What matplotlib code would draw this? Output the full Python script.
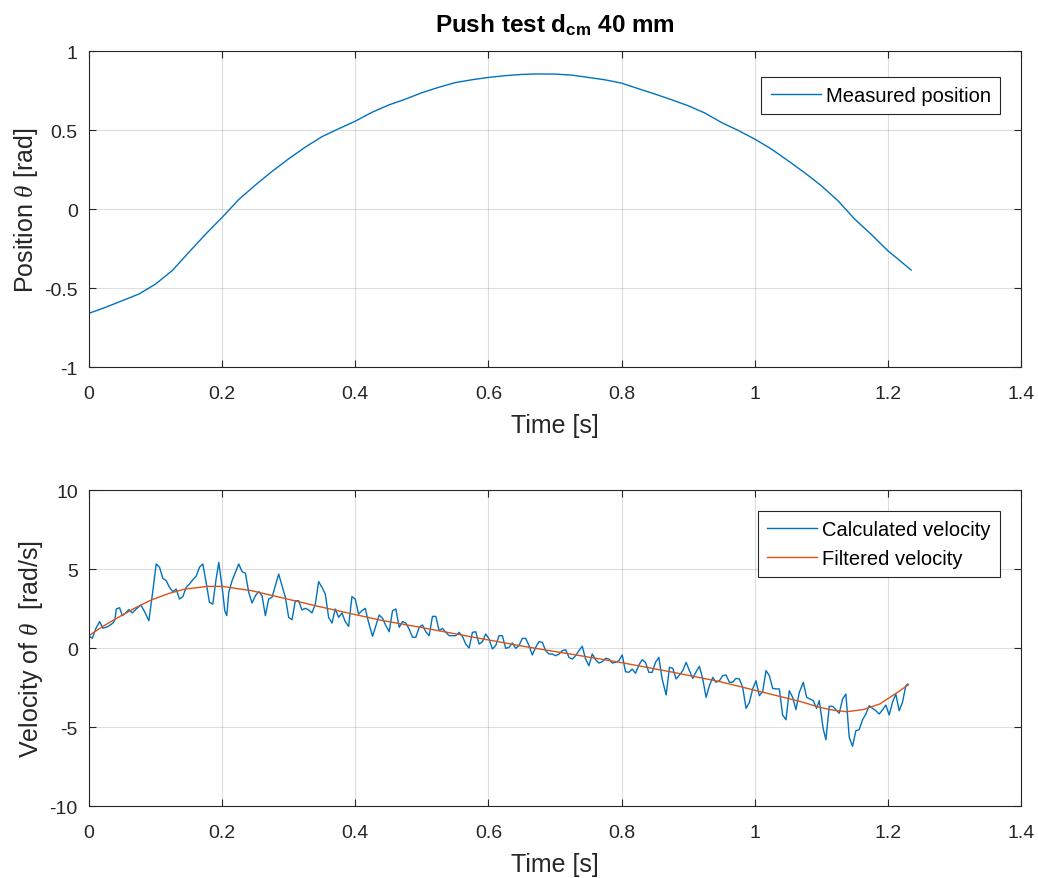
"""Push test: measured position and velocity of theta against time."""

import matplotlib
matplotlib.use("Agg")
import matplotlib.pyplot as plt


BLUE = "#0072BD"
ORANGE = "#D95319"
AXIS_GRAY = "#262626"

# Measured position [rad].
pos_time = [0.0, 0.025, 0.05, 0.075, 0.1, 0.125, 0.15, 0.175, 0.2, 0.225,
            0.25, 0.275, 0.3, 0.325, 0.35, 0.375, 0.4, 0.425, 0.45, 0.475,
            0.5, 0.525, 0.55, 0.575, 0.6, 0.625, 0.65, 0.675, 0.7, 0.725,
            0.75, 0.775, 0.8, 0.825, 0.85, 0.875, 0.9, 0.925, 0.95, 0.975,
            1.0, 1.025, 1.05, 1.075, 1.1, 1.125, 1.15, 1.175, 1.2, 1.215,
            1.235]
pos_value = [-0.66, -0.622, -0.58, -0.538, -0.475, -0.39, -0.274, -0.16,
             -0.053, 0.06, 0.152, 0.238, 0.318, 0.392, 0.458, 0.508, 0.556,
             0.612, 0.658, 0.695, 0.736, 0.77, 0.80, 0.818, 0.833, 0.844,
             0.852, 0.855, 0.854, 0.848, 0.833, 0.818, 0.797, 0.762, 0.728,
             0.692, 0.654, 0.608, 0.548, 0.498, 0.443, 0.38, 0.306, 0.23,
             0.148, 0.053, -0.063, -0.16, -0.264, -0.316, -0.386]

# Calculated velocity [rad/s] (10 per row).
vel_time = [
    0.001, 0.005, 0.010, 0.016, 0.021, 0.029, 0.036, 0.039, 0.041, 0.046,
    0.050, 0.055, 0.060, 0.065, 0.071, 0.078, 0.084, 0.090, 0.095, 0.101,
    0.106, 0.111, 0.116, 0.121, 0.126, 0.131, 0.136, 0.141, 0.146, 0.151,
    0.156, 0.161, 0.166, 0.171, 0.176, 0.181, 0.186, 0.191, 0.195, 0.201,
    0.204, 0.207, 0.210, 0.215, 0.220, 0.225, 0.230, 0.235, 0.240, 0.245,
    0.250, 0.255, 0.260, 0.265, 0.270, 0.275, 0.280, 0.285, 0.290, 0.295,
    0.300, 0.305, 0.310, 0.315, 0.320, 0.325, 0.330, 0.335, 0.340, 0.345,
    0.350, 0.355, 0.360, 0.365, 0.370, 0.375, 0.380, 0.385, 0.390, 0.395,
    0.400, 0.405, 0.410, 0.415, 0.420, 0.426, 0.431, 0.436, 0.441, 0.446,
    0.451, 0.456, 0.461, 0.466, 0.471, 0.476, 0.481, 0.486, 0.491, 0.496,
    0.501, 0.506, 0.511, 0.516, 0.521, 0.526, 0.531, 0.536, 0.541, 0.546,
    0.551, 0.556, 0.561, 0.566, 0.571, 0.576, 0.581, 0.586, 0.591, 0.596,
    0.601, 0.606, 0.611, 0.616, 0.621, 0.626, 0.631, 0.636, 0.641, 0.646,
    0.651, 0.656, 0.661, 0.666, 0.671, 0.676, 0.681, 0.686, 0.691, 0.696,
    0.701, 0.706, 0.711, 0.716, 0.721, 0.726, 0.731, 0.736, 0.741, 0.746,
    0.751, 0.756, 0.761, 0.766, 0.771, 0.776, 0.781, 0.786, 0.791, 0.796,
    0.801, 0.806, 0.811, 0.816, 0.821, 0.826, 0.831, 0.836, 0.841, 0.846,
    0.851, 0.856, 0.861, 0.867, 0.872, 0.877, 0.882, 0.887, 0.892, 0.897,
    0.902, 0.907, 0.912, 0.917, 0.922, 0.927, 0.932, 0.937, 0.942, 0.947,
    0.952, 0.957, 0.962, 0.967, 0.972, 0.977, 0.982, 0.987, 0.992, 0.997,
    1.002, 1.007, 1.012, 1.017, 1.022, 1.027, 1.032, 1.037, 1.042, 1.047,
    1.052, 1.057, 1.062, 1.067, 1.073, 1.078, 1.083, 1.088, 1.093, 1.097,
    1.103, 1.107, 1.112, 1.117, 1.122, 1.127, 1.132, 1.137, 1.142, 1.147,
    1.152, 1.157, 1.162, 1.167, 1.172, 1.177, 1.182, 1.187, 1.192, 1.197,
    1.202, 1.207, 1.212, 1.217, 1.222, 1.227, 1.230]
vel_value = [
    0.74, 0.61, 1.20, 1.67, 1.25, 1.37, 1.58, 1.79, 2.47, 2.55,
    2.05, 2.22, 2.43, 2.22, 2.47, 2.72, 2.26, 1.73, 3.31, 5.32,
    5.11, 4.41, 4.26, 3.84, 3.56, 3.73, 3.10, 3.25, 3.84, 4.05,
    4.32, 4.54, 5.11, 5.32, 4.16, 2.89, 2.78, 4.37, 5.42, 3.52,
    2.36, 2.05, 3.52, 4.26, 4.79, 5.32, 4.83, 4.73, 3.52, 2.85,
    3.31, 3.57, 3.31, 2.05, 3.10, 3.21, 3.94, 4.68, 3.94, 3.21,
    1.94, 1.79, 2.99, 2.99, 2.41, 2.51, 2.41, 2.22, 2.78, 4.20,
    3.84, 3.42, 1.94, 1.58, 2.47, 1.94, 2.22, 1.67, 1.37, 3.25,
    3.10, 2.15, 2.36, 2.51, 1.62, 0.74, 1.41, 2.09, 1.88, 1.41,
    1.03, 2.36, 2.47, 1.31, 1.67, 1.58, 1.20, 0.68, 0.68, 1.31,
    1.46, 1.03, 0.78, 2.00, 2.00, 1.10, 1.24, 0.99, 0.78, 0.78,
    0.78, 0.99, 0.74, 0.25, 0.00, 0.99, 1.03, 0.25, 0.40, 0.89,
    0.57, -0.06, 0.15, 0.78, 0.78, -0.02, 0.04, 0.32, -0.02, 0.15,
    0.61, 0.61, 0.15, -0.44, 0.04, 0.40, 0.36, -0.17, -0.38, -0.38,
    -0.49, -0.38, -0.17, -0.11, -0.59, -0.70, -0.49, -0.17, 0.11, -0.70,
    -1.12, -0.38, -0.74, -0.95, -0.87, -0.65, -0.70, -0.95, -0.91, -0.80,
    -0.44, -1.50, -1.54, -1.33, -1.60, -1.08, -0.74, -0.91, -1.54, -1.54,
    -0.91, -0.59, -1.96, -2.97, -1.22, -1.29, -1.96, -1.71, -1.43, -0.91,
    -1.43, -1.92, -1.50, -1.16, -1.96, -3.12, -2.38, -1.86, -2.17, -2.07,
    -1.75, -1.71, -2.17, -2.17, -1.92, -1.96, -2.49, -3.82, -3.44, -2.59,
    -2.07, -3.02, -2.76, -1.43, -1.75, -2.55, -2.59, -2.59, -4.24, -4.54,
    -2.70, -3.12, -3.90, -2.81, -2.17, -3.12, -3.23, -3.33, -3.82, -3.33,
    -5.13, -5.80, -3.69, -3.69, -3.90, -4.13, -3.23, -2.91, -5.65, -6.22,
    -5.23, -5.17, -4.54, -4.18, -3.65, -3.82, -3.97, -4.18, -3.92, -3.61,
    -4.24, -3.44, -2.91, -3.97, -3.44, -2.39, -2.28]

# Filtered velocity [rad/s].
filt_time = [0.0, 0.02, 0.044, 0.07, 0.094, 0.12, 0.144, 0.179, 0.2, 0.244,
             0.294, 0.344, 0.362, 0.437, 0.512, 0.587, 0.662, 0.723, 0.798,
             0.873, 0.948, 1.023, 1.068, 1.098, 1.12, 1.138, 1.163, 1.188,
             1.213, 1.231]
filt_value = [0.78, 1.35, 1.94, 2.55, 3.05, 3.45, 3.73, 3.90, 3.90, 3.63,
              3.14, 2.64, 2.47, 1.77, 1.20, 0.61, 0.04, -0.38, -0.91, -1.50,
              -2.13, -2.91, -3.38, -3.76, -3.95, -4.03, -3.90, -3.54, -2.85,
              -2.32]

X_TICKS = [0, 0.2, 0.4, 0.6, 0.8, 1.0, 1.2, 1.4]
X_TICK_LABELS = ["0", "0.2", "0.4", "0.6", "0.8", "1", "1.2", "1.4"]


def style_axes(axes):
    """MATLAB-like box, grid and ticks."""
    for spine in axes.spines.values():
        spine.set_color(AXIS_GRAY)
        spine.set_linewidth(0.8)
    axes.tick_params(direction="in", length=5, width=0.8, colors=AXIS_GRAY,
                     labelsize=14, top=True, right=True)
    axes.tick_params(axis="x", pad=13)
    axes.tick_params(axis="y", pad=8)
    axes.grid(True, color=AXIS_GRAY, alpha=0.15, linewidth=0.8)
    axes.set_axisbelow(True)
    axes.set_xlim(0, 1.4)
    axes.set_xticks(X_TICKS)
    axes.set_xticklabels(X_TICK_LABELS)
    axes.set_xlabel("Time [s]", fontsize=18, color=AXIS_GRAY, labelpad=8)


def add_legend(axes, anchor, spacing):
    """Square-cornered legend box as MATLAB draws it."""
    legend = axes.legend(loc="upper right", bbox_to_anchor=anchor,
                         borderaxespad=0, fontsize=14.5, frameon=True,
                         fancybox=False, edgecolor=AXIS_GRAY, framealpha=1,
                         handlelength=2.5, handletextpad=0.25,
                         borderpad=0.45, labelspacing=spacing)
    legend.get_frame().set_linewidth(0.8)


def main() -> None:
    plt.rcParams["font.family"] = ["Liberation Sans", "DejaVu Sans"]
    plt.rcParams["mathtext.fontset"] = "custom"
    plt.rcParams["mathtext.rm"] = "Liberation Sans"
    plt.rcParams["mathtext.it"] = "Liberation Serif:italic"
    plt.rcParams["mathtext.bf"] = "Liberation Sans:bold"
    plt.rcParams["axes.unicode_minus"] = False

    fig = plt.figure(figsize=(10.38, 8.79), dpi=100)
    ax_pos = fig.add_axes([0.0857, 0.5813, 0.8979, 0.3595])
    ax_vel = fig.add_axes([0.0857, 0.0819, 0.8979, 0.3595])

    # Position panel.
    ax_pos.plot(pos_time, pos_value, color=BLUE, linewidth=1.0,
                label="Measured position")
    style_axes(ax_pos)
    ax_pos.set_ylim(-1, 1)
    ax_pos.set_yticks([-1, -0.5, 0, 0.5, 1])
    ax_pos.set_yticklabels(["-1", "-0.5", "0", "0.5", "1"])
    ax_pos.set_ylabel(r"Position $\theta$ [rad]", fontsize=18,
                      color=AXIS_GRAY, labelpad=3)
    ax_pos.set_title(r"Push test $\mathbf{d}_{\mathbf{cm}}$ 40 mm",
                     fontsize=17.5, fontweight="bold", pad=14)
    add_legend(ax_pos, (0.9775, 0.918), 0.5)

    # Velocity panel.
    ax_vel.plot(vel_time, vel_value, color=BLUE, linewidth=1.0,
                label="Calculated velocity")
    ax_vel.plot(filt_time, filt_value, color=ORANGE, linewidth=1.0,
                label="Filtered velocity")
    style_axes(ax_vel)
    ax_vel.set_ylim(-10, 10)
    ax_vel.set_yticks([-10, -5, 0, 5, 10])
    ax_vel.set_yticklabels(["-10", "-5", "0", "5", "10"])
    ax_vel.set_ylabel(r"Velocity of $\theta$  [rad/s]", fontsize=18,
                      color=AXIS_GRAY, labelpad=3)
    add_legend(ax_vel, (0.9775, 0.9335), 0.5)

    fig.savefig("out.png", dpi=100)


if __name__ == "__main__":
    main()
